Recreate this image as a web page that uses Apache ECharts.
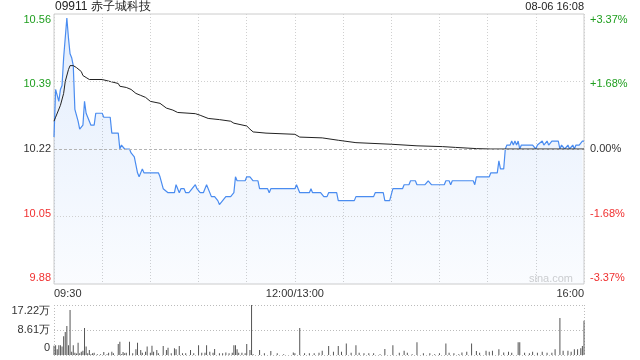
<!DOCTYPE html>
<html><head><meta charset="utf-8">
<script src="https://cdn.jsdelivr.net/npm/echarts@6/dist/echarts.min.js"></script>
<style>html,body{margin:0;padding:0;background:#fff}#c{width:640px;height:360px}</style>
</head><body><div id="c"></div>
<script>
// ---- data ----
const title = '09911 赤子城科技';
const stamp = '08-06 16:08';
const watermark = 'sina.com';
const prevClose = 10.22;

// [minute index from 09:30 (trading minutes), price]
const pricePoints = [
[0,10.25],[1,10.37],[3,10.34],[4,10.37],[5,10.38],[6,10.45],[7,10.45],[8,10.55],[9,10.50],[10,10.46],
[11,10.45],[12,10.43],[13,10.32],[14,10.32],[15,10.29],[16,10.27],[17,10.27],[18,10.28],[19,10.34],[20,10.31],
[21,10.30],[22,10.29],[23,10.28],[25,10.28],[26,10.31],[30,10.31],[31,10.30],[35,10.30],[36,10.26],[40,10.26],
[41,10.22],[42,10.23],[44,10.22],[47,10.22],[48,10.21],[50,10.20],[51,10.18],[52,10.16],[53,10.15],[55,10.17],
[56,10.16],[65,10.16],[66,10.15],[68,10.12],[71,10.11],[75,10.11],[76,10.13],[77,10.13],[78,10.11],[79,10.12],
[81,10.12],[82,10.11],[84,10.11],[86,10.12],[88,10.13],[89,10.12],[91,10.11],[93,10.11],[95,10.13],[96,10.13],
[98,10.10],[100,10.10],[102,10.09],[103,10.08],[105,10.09],[107,10.10],[110,10.10],[112,10.11],[113,10.15],[114,10.14],
[119,10.14],[120,10.15],[122,10.15],[124,10.14],[127,10.14],[128,10.12],[133,10.12],[134,10.11],[135,10.12],[150,10.12],
[151,10.13],[153,10.11],[159,10.11],[160,10.12],[161,10.11],[166,10.11],[168,10.10],[170,10.10],[171,10.11],[176,10.11],
[177,10.09],[187,10.09],[188,10.10],[199,10.10],[200,10.11],[205,10.11],[206,10.09],[209,10.09],[211,10.12],[217,10.12],
[218,10.13],[221,10.13],[222,10.14],[225,10.14],[226,10.13],[231,10.13],[233,10.14],[234,10.14],[235,10.13],[243,10.13],
[244,10.14],[246,10.14],[247,10.13],[248,10.14],[261,10.14],[262,10.13],[263,10.15],[271,10.15],[272,10.16],[276,10.16],
[277,10.19],[278,10.17],[280,10.17],[281,10.22],[282,10.23],[284,10.23],[285,10.24],[286,10.23],[287,10.24],[288,10.23],
[289,10.24],[290,10.22],[291,10.23],[298,10.23],[300,10.22],[301,10.23],[302,10.23],[304,10.24],[305,10.23],[307,10.24],
[308,10.23],[310,10.24],[314,10.24],[315,10.22],[316,10.23],[318,10.22],[320,10.23],[321,10.22],[323,10.23],[324,10.22],
[325,10.23],[327,10.23],[329,10.24],[330,10.24]
];

// [minute, average price]
const avgPoints = [
[0,10.29],[1,10.30],[4,10.33],[6,10.36],[7,10.39],[9,10.42],[10,10.43],[12,10.43],[14,10.425],[17,10.415],
[18,10.405],[20,10.40],[22,10.395],[30,10.395],[35,10.39],[40,10.385],[41,10.378],[45,10.375],[48,10.37],[51,10.36],
[54,10.355],[57,10.35],[60,10.34],[66,10.335],[70,10.323],[74,10.318],[77,10.312],[88,10.309],[91,10.305],[96,10.297],
[103,10.294],[110,10.29],[112,10.285],[120,10.278],[122,10.27],[124,10.263],[132,10.26],[150,10.257],[153,10.25],[167,10.248],
[177,10.242],[188,10.236],[210,10.232],[226,10.228],[242,10.226],[250,10.224],[263,10.221],[272,10.22],[330,10.22]
];

// [minute, volume in 万 shares]
const volPoints = [
[0,3.2],[1,3.4],[2,2.0],[3,3.4],[4,3.4],[5,2.9],[6,6.5],[7,7.9],[8,10.0],[9,3.4],
[10,15.5],[11,1.1],[12,3.4],[13,0.8],[14,0.5],[15,4.2],[16,0.6],[17,1.1],[18,1.5],[19,9.3],
[20,2.9],[21,0.6],[22,1.7],[23,0.3],[24,0.6],[25,0.8],[27,0.3],[29,0.3],[31,1.0],[33,0.3],
[34,0.8],[36,1.1],[37,0.6],[40,3.8],[41,4.6],[42,0.3],[43,1.0],[44,0.6],[45,0.8],[47,4.6],
[49,0.6],[51,2.0],[52,4.2],[54,1.7],[55,0.8],[57,1.1],[58,2.9],[60,0.8],[61,3.2],[62,1.1],
[64,1.7],[65,0.6],[68,3.1],[70,1.7],[71,2.5],[73,0.6],[75,2.3],[76,2.0],[78,3.1],[80,0.6],
[82,0.6],[85,1.7],[87,0.6],[90,3.4],[92,0.8],[94,0.8],[95,3.4],[97,1.1],[99,0.8],[100,2.1],
[103,0.6],[105,0.6],[107,0.9],[109,0.6],[111,0.8],[112,3.4],[113,3.4],[114,2.0],[115,0.8],[117,0.8],
[119,0.6],[120,3.8],[122,1.7],[123,17.22],[124,0.3],[128,1.7],[131,0.6],[135,1.4],[139,0.6],[143,0.3],
[149,0.9],[150,0.6],[153,9.3],[156,0.6],[159,0.6],[162,0.6],[165,0.8],[167,1.5],[171,3.1],[174,1.1],
[177,3.1],[179,1.1],[182,4.0],[185,0.8],[188,3.4],[190,0.8],[193,0.6],[196,0.6],[199,0.6],[203,0.3],
[206,2.1],[211,3.4],[215,0.8],[218,1.5],[220,0.8],[223,0.3],[226,4.4],[230,0.6],[234,0.6],[237,0.3],
[240,0.6],[244,4.0],[246,0.8],[249,0.6],[252,0.3],[254,0.9],[257,1.1],[260,4.0],[263,1.4],[265,0.8],
[269,1.5],[271,1.1],[273,1.5],[277,2.0],[280,0.9],[283,1.1],[285,0.8],[289,4.4],[290,4.4],[293,0.8],
[296,0.6],[298,1.1],[301,0.8],[304,1.1],[307,0.8],[310,0.8],[312,2.0],[315,12.7],[317,1.5],[320,1.5],
[322,1.1],[324,2.0],[326,2.0],[328,2.3],[329,3.1],[330,11.8]
];

const priceTicks = [9.88, 10.05, 10.22, 10.39, 10.56];
const priceTickLabels = ['9.88', '10.05', '10.22', '10.39', '10.56'];
const pctTickLabels = ['-3.37%', '-1.68%', '0.00%', '+1.68%', '+3.37%'];
const volTicks = [0, 8.61, 17.22];
const volTickLabels = ['0', '8.61万', '17.22万'];
const timeTicks = [0, 150, 330];
const timeTickLabels = ['09:30', '12:00/13:00', '16:00'];
const gridLevels = [10.05, 10.39];

// ---- chart ----
const GREEN = '#1e9e1e', RED = '#f03030', DARK = '#333';
const priceStyleKeys = ['r0', 'r1', 'n', 'g1', 'g0'];
const volStyleKeys = ['b', 'n', 't'];
const FONT = '"Liberation Sans", Arial, sans-serif';
const richPrice = {
  g0: {color: GREEN, fontSize: 11, fontFamily: FONT, padding: [12, 0, 0, 0]},
  g1: {color: GREEN, fontSize: 11, fontFamily: FONT, padding: [5, 0, 0, 0]},
  n:  {color: DARK, fontSize: 11, fontFamily: FONT},
  r1: {color: RED, fontSize: 11, fontFamily: FONT, padding: [0, 0, 5, 0]},
  r0: {color: RED, fontSize: 11, fontFamily: FONT, padding: [0, 0, 12, 0]}
};
const richVol = {
  t: {color: DARK, fontSize: 11, fontFamily: FONT, padding: [11, 0, 0, 0]},
  n: {color: DARK, fontSize: 11, fontFamily: FONT},
  b: {color: DARK, fontSize: 11, fontFamily: FONT, padding: [0, 0, 14, 0]}
};
function idxOf(arr, v) { return arr.findIndex(t => Math.abs(t - v) < 1e-6); }

const chart = echarts.init(document.getElementById('c'), null, {renderer: 'canvas'});
chart.setOption({
  animation: false,
  backgroundColor: '#fff',
  graphic: [
    {type: 'text', left: 55, top: 1, style: {text: title, fill: '#222', font: '12px ' + FONT}},
    {type: 'text', right: 56, top: 1, style: {text: stamp, fill: '#222', font: '11px ' + FONT}},
    {type: 'text', right: 67, top: 273, style: {text: watermark, fill: '#cfcfcf', font: '11px ' + FONT}}
  ],
  grid: [
    {left: 54, width: 530, top: 14, height: 270, show: true, borderColor: '#cccccc', borderWidth: 1},
    {left: 54, width: 530, top: 305, height: 50}
  ],
  xAxis: [
    {type: 'value', gridIndex: 0, min: 0, max: 330, interval: 30,
     axisLine: {show: false}, axisTick: {show: false},
     splitLine: {show: true, lineStyle: {color: '#d0d0d0', type: [1, 2], width: 1}},
     axisLabel: {show: true, margin: 4, color: DARK, fontSize: 11, fontFamily: FONT,
       showMinLabel: true, showMaxLabel: true, alignMinLabel: 'left', alignMaxLabel: 'right',
       formatter: v => { const k = idxOf(timeTicks, v); return k < 0 ? '' : timeTickLabels[k]; }}},
    {type: 'value', gridIndex: 1, min: 0, max: 330, interval: 330,
     axisLine: {show: false}, axisTick: {show: false}, axisLabel: {show: false},
     splitLine: {show: true, lineStyle: {color: '#bbbbbb', type: [1, 2], width: 1}}}
  ],
  yAxis: [
    {type: 'value', gridIndex: 0, min: 9.88, max: 10.56, position: 'left',
     axisLine: {show: false}, axisTick: {show: false}, splitLine: {show: false},
     axisLabel: {show: true, margin: 3, customValues: priceTicks,
       formatter: v => { const k = idxOf(priceTicks, v); return k < 0 ? '' : '{' + priceStyleKeys[k] + '|' + priceTickLabels[k] + '}'; },
       rich: richPrice}},
    {type: 'value', gridIndex: 0, min: 9.88, max: 10.56, position: 'right',
     axisLine: {show: false}, axisTick: {show: false}, splitLine: {show: false},
     axisLabel: {show: true, margin: 6, customValues: priceTicks,
       formatter: v => { const k = idxOf(priceTicks, v); return k < 0 ? '' : '{' + priceStyleKeys[k] + '|' + pctTickLabels[k] + '}'; },
       rich: richPrice}},
    {type: 'value', gridIndex: 1, min: 0, max: 17.22, interval: 8.61,
     axisLine: {show: false}, axisTick: {show: false},
     splitLine: {show: true, lineStyle: {color: '#bbbbbb', type: [1, 2], width: 1}},
     axisLabel: {show: true, margin: 4, customValues: volTicks,
       formatter: v => { const k = idxOf(volTicks, v); return k < 0 ? '' : '{' + volStyleKeys[k] + '|' + volTickLabels[k] + '}'; },
       rich: richVol}}
  ],
  series: [
    {type: 'line', xAxisIndex: 0, yAxisIndex: 0, data: pricePoints, symbol: 'none', silent: true,
     lineStyle: {color: '#4a8cf0', width: 1.2},
     areaStyle: {origin: 'start', color: new echarts.graphic.LinearGradient(0, 0, 0, 1, [
       {offset: 0, color: 'rgba(74,140,240,0.22)'}, {offset: 1, color: 'rgba(74,140,240,0.04)'}])},
     markLine: {silent: true, symbol: 'none', label: {show: false}, animation: false,
       data: gridLevels.map(v => ({yAxis: v, lineStyle: {color: '#d0d0d0', type: [1, 2], width: 1}}))
         .concat([{yAxis: prevClose, lineStyle: {color: '#b4b4b4', type: [3, 2], width: 1}}])},
     z: 2},
    {type: 'line', xAxisIndex: 0, yAxisIndex: 0, data: avgPoints, symbol: 'none', silent: true,
     lineStyle: {color: '#222', width: 1}, z: 3},
    {type: 'bar', xAxisIndex: 1, yAxisIndex: 2, data: volPoints, barWidth: 1, silent: true,
     itemStyle: {color: '#555'}}
  ]
});
</script>
</body></html>
